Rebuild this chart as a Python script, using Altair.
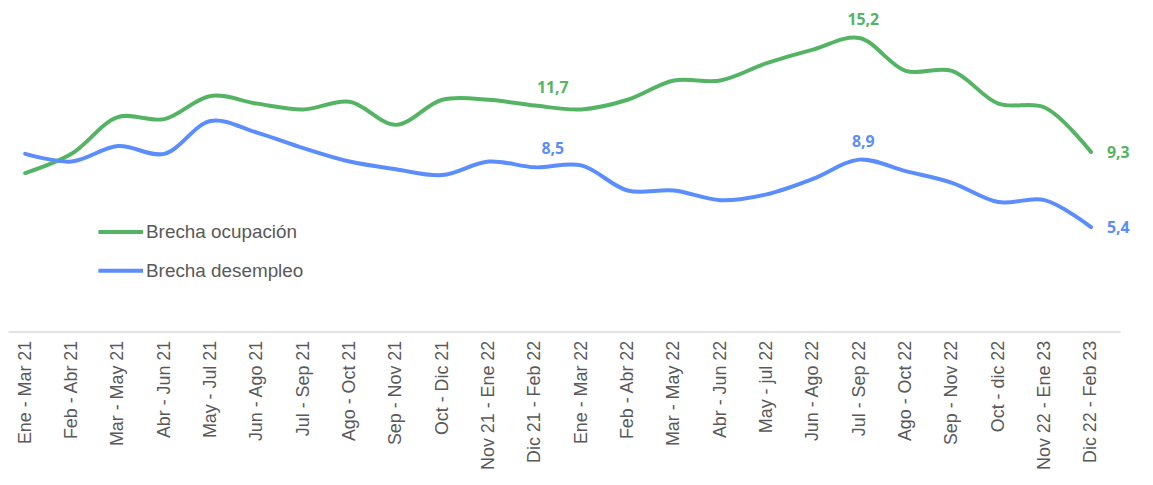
import altair as alt
import pandas as pd

periodos = [
    "Ene - Mar 21", "Feb - Abr 21", "Mar - May 21", "Abr - Jun 21", "May - Jul 21",
    "Jun - Ago 21", "Jul - Sep 21", "Ago - Oct 21", "Sep - Nov 21", "Oct - Dic 21",
    "Nov 21 - Ene 22", "Dic 21 - Feb 22", "Ene - Mar 22", "Feb - Abr 22", "Mar - May 22",
    "Abr - Jun 22", "May - jul 22", "Jun - Ago 22", "Jul - Sep 22", "Ago - Oct 22",
    "Sep - Nov 22", "Oct - dic 22", "Nov 22 - Ene 23", "Dic 22 - Feb 23",
]
brecha_ocupacion = [8.2, 9.2, 11.1, 11.0, 12.2, 11.8, 11.5, 11.9, 10.7, 12.0, 12.0, 11.7,
                    11.5, 12.0, 13.0, 13.0, 13.9, 14.6, 15.2, 13.5, 13.5, 11.8, 11.6, 9.3]
brecha_desempleo = [9.2, 8.8, 9.6, 9.2, 10.9, 10.3, 9.5, 8.8, 8.4, 8.1, 8.8, 8.5,
                    8.6, 7.3, 7.3, 6.8, 7.1, 7.9, 8.9, 8.3, 7.7, 6.7, 6.8, 5.4]
series = ["Brecha ocupación", "Brecha desempleo"]
colores = ["#55B464", "#5B8DFD"]
etiquetas_arriba_a = ["Dic 21 - Feb 22"]
etiquetas_arriba_b = ["Jul - Sep 22"]
etiquetas_derecha = ["Dic 22 - Feb 23"]

rows = []
for s, vals in zip(series, [brecha_ocupacion, brecha_desempleo]):
    for p, v in zip(periodos, vals):
        rows.append({"periodo": p, "serie": s, "valor": v,
                     "etiqueta": f"{v:.1f}".replace(".", ",")})
df = pd.DataFrame(rows)

x = alt.X("periodo:N", sort=periodos, title=None,
          scale=alt.Scale(type="point", paddingOuter=0.371, align=0.371),
          axis=alt.Axis(labelAngle=270, labelFont="Liberation Sans", labelFontSize=18,
                        labelColor="#595959", ticks=False, labelPadding=9,
                        domainColor="#D9D9D9", domainWidth=1.5, grid=False,
                        labelOverlap=False))
y = alt.Y("valor:Q", title=None, axis=None,
          scale=alt.Scale(domain=[0, 16], nice=False, zero=True))
color = alt.Color("serie:N", sort=series,
                  scale=alt.Scale(domain=series, range=colores),
                  legend=alt.Legend(title=None, orient="none", legendX=89, legendY=201,
                                    symbolType="stroke", symbolSize=2025,
                                    symbolStrokeWidth=4, clipHeight=20, rowPadding=19,
                                    labelFont="Liberation Sans", labelFontSize=19,
                                    labelColor="#595959", labelOffset=1, padding=0))

base = alt.Chart(df)
lineas = base.mark_line(strokeWidth=4, interpolate="catmull-rom", strokeCap="round").encode(
    x=x, y=y, color=color)

def etiquetas(filtro, **kw):
    return base.transform_filter(
        alt.FieldOneOfPredicate(field="periodo", oneOf=filtro)
    ).mark_text(font="Open Sans", fontWeight="bold", fontSize=16, **kw).encode(
        x=x, y=y, text="etiqueta:N",
        color=alt.Color("serie:N", scale=alt.Scale(domain=series, range=colores), legend=None))

t1 = etiquetas(etiquetas_arriba_a, dx=18, dy=-18, baseline="middle", align="center")
t2 = etiquetas(etiquetas_arriba_b, dx=4, dy=-18, baseline="middle", align="center")
t3 = etiquetas(etiquetas_derecha, dx=16, dy=1, baseline="middle", align="left")

chart = alt.layer(lineas, t1, t2, t3).properties(
    width=1120, height=311,
    autosize=alt.AutoSizeParams(type="none"),
    padding={"left": 0, "top": 13, "right": 25, "bottom": 150},
    background="white",
).configure_view(strokeWidth=0, stroke=None)

chart.save("out.html", embed_options={"renderer": "svg", "actions": False})
